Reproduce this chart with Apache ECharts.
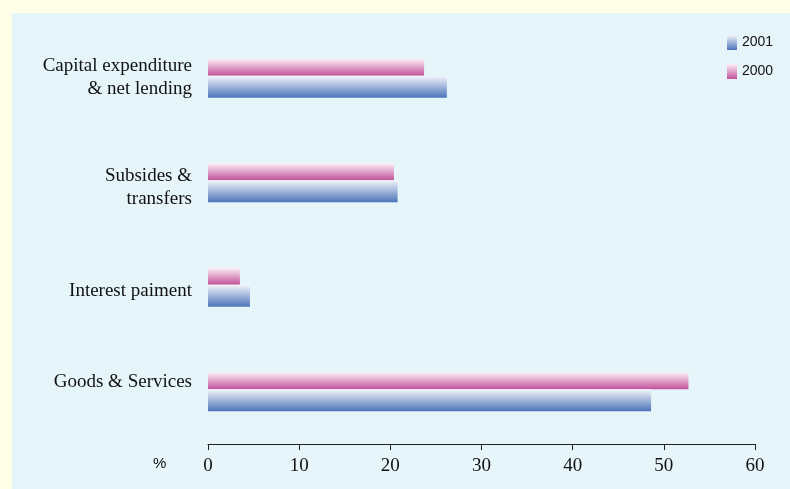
<!DOCTYPE html>
<html>
<head>
<meta charset="utf-8">
<script src="https://cdn.jsdelivr.net/npm/echarts@6/dist/echarts.min.js"></script>
<style>
  html, body { margin: 0; padding: 0; background: #fffee6; }
  #frame { position: absolute; left: 12px; top: 13px; right: 0; bottom: 0; background: #e6f5f9; }
  #chart { position: absolute; left: 0; top: 0; width: 790px; height: 489px; }
</style>
</head>
<body>
<div id="frame"></div>
<div id="chart"></div>
<script>
// Spending categories, listed bottom to top
var categories = ['Goods & Services', 'Interest paiment', 'Subsides &\ntransfers', 'Capital expenditure\n& net lending'];
var values2001 = [48.6, 4.6, 20.8, 26.2];
var values2000 = [52.7, 3.5, 20.4, 23.7];
var xTicks = [0, 10, 20, 30, 40, 50, 60];

var serif = 'Liberation Serif';

// Extra blank space above / below each category label (px), used to nudge rows
var spaceAbove = [0, 8, 10, 0];
var spaceBelow = [20, 0, 0, 2];

var richStyles = {
  t: { fontFamily: serif, fontSize: 19, lineHeight: 23, color: '#111', align: 'right' }
};
spaceAbove.concat(spaceBelow).forEach(function (h) {
  if (h > 0) richStyles['s' + h] = { fontSize: 1, lineHeight: h };
});

function labelText(value, index) {
  var lines = String(value).split('\n').map(function (l) { return '{t|' + l + '}'; });
  if (spaceAbove[index] > 0) lines.unshift('{s' + spaceAbove[index] + '| }');
  if (spaceBelow[index] > 0) lines.push('{s' + spaceBelow[index] + '| }');
  return lines.join('\n');
}

function shade(top, bottom) {
  return new echarts.graphic.LinearGradient(0, 0, 0, 1, [
    { offset: 0, color: top },
    { offset: 1, color: bottom }
  ]);
}

var chart = echarts.init(document.getElementById('chart'), null, { renderer: 'canvas' });
chart.setOption({
  backgroundColor: 'transparent',
  animation: false,
  grid: { left: 208, right: 35, top: 26, bottom: 45, containLabel: false },
  legend: {
    orient: 'vertical',
    left: 722,
    top: 30,
    itemWidth: 10,
    itemHeight: 15,
    itemGap: 14,
    icon: 'rect',
    textStyle: { fontFamily: 'Liberation Sans', fontSize: 14, color: '#111' },
    data: ['2001', '2000']
  },
  xAxis: {
    type: 'value',
    min: xTicks[0],
    max: xTicks[xTicks.length - 1],
    interval: 10,
    splitLine: { show: false },
    axisLine: { show: true, lineStyle: { color: '#222', width: 1 } },
    axisTick: { show: true, length: 6, lineStyle: { color: '#222' } },
    axisLabel: { margin: 13, fontFamily: serif, fontSize: 19, color: '#111' }
  },
  yAxis: {
    type: 'category',
    data: categories,
    axisLine: { show: false },
    axisTick: { show: false },
    axisLabel: {
      margin: 16,
      fontFamily: serif,
      fontSize: 19,
      lineHeight: 23,
      color: '#111',
      align: 'right',
      formatter: labelText,
      rich: richStyles
    }
  },
  graphic: [{
    type: 'text',
    left: 153,
    top: 456,
    style: { text: '%', fontFamily: 'Liberation Sans', fontSize: 15, fill: '#111' }
  }],
  series: [
    {
      name: '2000',
      type: 'bar',
      data: values2000,
      barWidth: 17,
      barGap: '0%',
      itemStyle: { color: shade('#fdf1f7', '#c2529a') }
    },
    {
      name: '2001',
      type: 'bar',
      data: values2001,
      barWidth: 22,
      barGap: '0%',
      itemStyle: { color: shade('#f4f6fb', '#4d74b9') }
    }
  ]
});
</script>
</body>
</html>
